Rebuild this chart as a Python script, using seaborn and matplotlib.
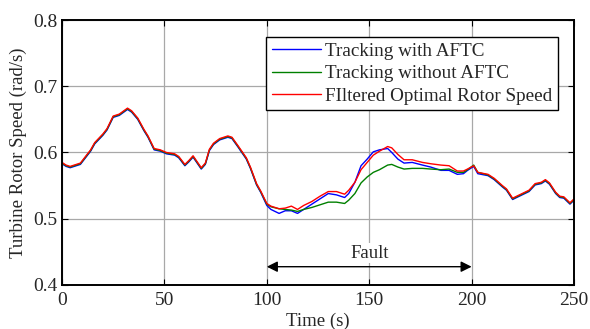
import matplotlib
matplotlib.use("Agg")
import matplotlib.pyplot as plt
import numpy as np
import pandas as pd
import seaborn as sns

# values
time = [0, 2, 4, 7, 9, 11, 14, 16, 20, 22, 25, 28, 32, 34, 37, 40, 42, 45, 48, 51,
        55, 57, 60, 62, 64, 66, 68, 70, 72, 74, 77, 81, 83, 86, 90, 92, 95, 97, 100, 102,
        106, 109, 112, 115, 118, 122, 126, 130, 134, 138, 140, 143, 146, 149, 152, 155, 159, 161, 164, 167,
        171, 176, 180, 185, 189, 193, 196, 198, 201, 203, 208, 211, 215, 217, 220, 224, 228, 231, 234, 236,
        238, 241, 243, 245, 248, 250]

optimal = [0.585, 0.581, 0.579, 0.582, 0.584, 0.592, 0.604, 0.615, 0.628, 0.636, 0.655, 0.658, 0.667, 0.663, 0.652, 0.635, 0.625, 0.606, 0.604, 0.600,
           0.598, 0.594, 0.582, 0.588, 0.595, 0.586, 0.577, 0.584, 0.605, 0.614, 0.621, 0.625, 0.623, 0.610, 0.592, 0.578, 0.553, 0.542, 0.523, 0.519,
           0.515, 0.516, 0.519, 0.514, 0.520, 0.526, 0.534, 0.541, 0.541, 0.537, 0.543, 0.555, 0.574, 0.585, 0.596, 0.602, 0.609, 0.607, 0.597, 0.589,
           0.589, 0.585, 0.583, 0.581, 0.580, 0.572, 0.572, 0.575, 0.580, 0.570, 0.567, 0.561, 0.550, 0.545, 0.531, 0.537, 0.543, 0.553, 0.555, 0.559,
           0.554, 0.540, 0.534, 0.533, 0.524, 0.530]

with_aftc = [0.583, 0.579, 0.577, 0.580, 0.582, 0.590, 0.602, 0.613, 0.626, 0.634, 0.653, 0.656, 0.665, 0.661, 0.650, 0.633, 0.623, 0.604, 0.602, 0.598,
             0.596, 0.592, 0.580, 0.586, 0.593, 0.584, 0.575, 0.582, 0.603, 0.612, 0.619, 0.623, 0.621, 0.608, 0.590, 0.576, 0.551, 0.540, 0.520, 0.514,
             0.508, 0.512, 0.512, 0.508, 0.514, 0.522, 0.530, 0.538, 0.536, 0.532, 0.538, 0.555, 0.580, 0.590, 0.601, 0.604, 0.606, 0.600, 0.590, 0.584,
             0.585, 0.581, 0.578, 0.573, 0.573, 0.567, 0.568, 0.573, 0.579, 0.568, 0.565, 0.559, 0.548, 0.543, 0.529, 0.535, 0.541, 0.551, 0.553, 0.557,
             0.552, 0.538, 0.532, 0.531, 0.522, 0.528]

without_aftc = [0.584, 0.580, 0.578, 0.581, 0.583, 0.591, 0.603, 0.614, 0.627, 0.635, 0.654, 0.657, 0.666, 0.662, 0.651, 0.634, 0.624, 0.605, 0.603, 0.599,
                0.597, 0.593, 0.581, 0.587, 0.594, 0.585, 0.576, 0.583, 0.604, 0.613, 0.620, 0.624, 0.622, 0.609, 0.591, 0.577, 0.552, 0.541, 0.522, 0.518,
                0.515, 0.514, 0.513, 0.511, 0.514, 0.517, 0.521, 0.525, 0.525, 0.523, 0.528, 0.538, 0.554, 0.563, 0.570, 0.574, 0.581, 0.582, 0.578, 0.575,
                0.576, 0.576, 0.575, 0.574, 0.575, 0.570, 0.570, 0.574, 0.581, 0.570, 0.566, 0.560, 0.549, 0.544, 0.530, 0.536, 0.542, 0.552, 0.554, 0.558,
                0.553, 0.539, 0.533, 0.532, 0.523, 0.529]

labels = ["Tracking with AFTC", "Tracking without AFTC", "FIltered Optimal Rotor Speed"]
colors = ["#0000ff", "#008000", "#ff0000"]

sns.set_style("ticks")
plt.rcParams['font.family'] = ['Liberation Serif', 'DejaVu Serif']
plt.rcParams['font.size'] = 13

fig = plt.figure(figsize=(5.9, 3.29), dpi=100)
ax = fig.add_axes([0.105, 0.134, 0.868, 0.805])

for series, lab, col in zip([with_aftc, without_aftc, optimal], labels, colors):
    sns.lineplot(x=time, y=series, ax=ax, color=col, label=lab, linewidth=1.0)

ax.set_xlim(0, 250)
ax.set_ylim(0.4, 0.8)
ax.set_xticks([0, 50, 100, 150, 200, 250])
ax.set_yticks([0.4, 0.5, 0.6, 0.7, 0.8])
ax.set_yticklabels(["0.4", "0.5", "0.6", "0.7", "0.8"])
ax.grid(True, color="#a8a8a8", linewidth=0.9)
ax.tick_params(direction="in", top=True, right=True, length=4, labelsize=14, color="black")
ax.tick_params(axis="x", pad=5)
for sp in ax.spines.values():
    sp.set_color("black")
    sp.set_linewidth(1.4)

ax.set_xlabel("Time (s)", fontsize=13.5, labelpad=3)
ax.set_ylabel("Turbine Rotor Speed (rad/s)", fontsize=13.5)
ax.yaxis.set_label_coords(-0.068, 0.5)

# fault interval marker
ax.annotate("", xy=(100, 0.4275), xytext=(200, 0.4275),
            arrowprops=dict(arrowstyle="<|-|>", color="black", lw=1.0, mutation_scale=16,
                            shrinkA=0, shrinkB=0))
ax.text(150, 0.448, "Fault", ha="center", va="center", fontsize=13.5,
        bbox=dict(facecolor="white", edgecolor="none", pad=1))

leg = ax.legend(loc="upper right", bbox_to_anchor=(0.969, 0.936), fancybox=False,
                framealpha=1, edgecolor="black", fontsize=13.8, handlelength=2.6,
                handletextpad=0.2, borderpad=0.3, labelspacing=0.25, borderaxespad=0)
leg.get_frame().set_linewidth(1.0)

fig.savefig("out.png", dpi=100)
